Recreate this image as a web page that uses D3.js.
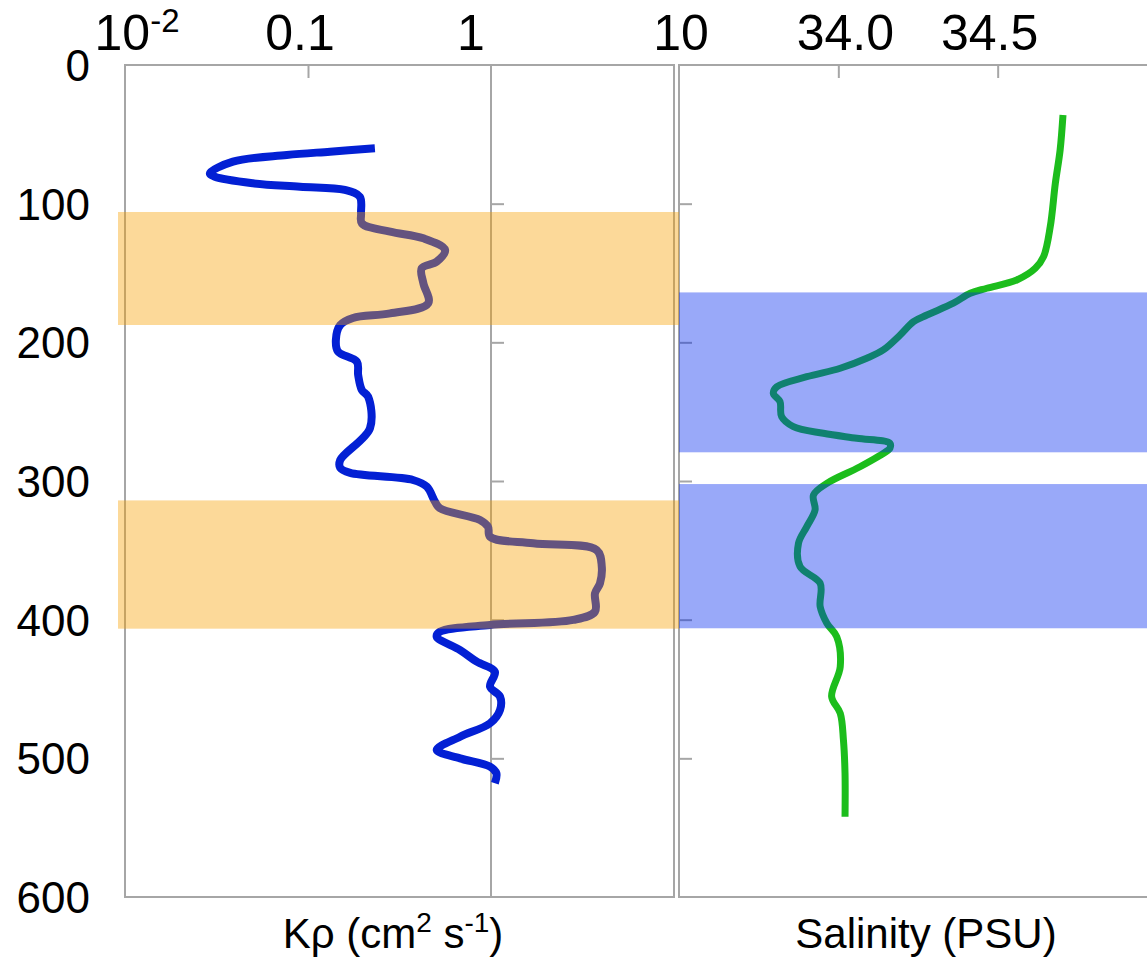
<!DOCTYPE html>
<html><head><meta charset="utf-8">
<script src="https://cdn.jsdelivr.net/npm/d3@7"></script>
<style>html,body{margin:0;padding:0;background:#fff;overflow:hidden;} svg{display:block;font-family:"Liberation Sans",Arial,sans-serif;}</style>
</head><body><svg id="c" width="1147" height="959"></svg>
<script>
// ---------------- data ----------------
const depthTicks = [0, 100, 200, 300, 400, 500, 600];
const depthTickLabels = ["0", "100", "200", "300", "400", "500", "600"];
const kTicks = [0.01, 0.1, 1, 10];
const kTickLabels = ["10", "0.1", "1", "10"];   // first label gets superscript "-2"
const salTicks = [34.0, 34.5];
const salTickLabels = ["34.0", "34.5"];

// K-rho profile (depth m, cm2 s-1)
const kDepth = [60.1, 62.5, 64.9, 69.7, 78.1, 80.6, 85.3, 87.8, 90.1, 95.0, 106.9, 114.2, 120.2, 125.0, 133.4, 141.8, 146.6, 157.4, 171.8, 179.1, 182.4, 187.5, 198.3, 206.7, 214.0, 223.6, 234.4, 239.2, 262.0, 284.9, 290.6, 294.2, 299.3, 304.1, 314.9, 319.7, 328.1, 333.0, 340.2, 344.9, 349.8, 361.8, 373.8, 381.0, 394.2, 400.2, 403.8, 408.7, 412.3, 421.9, 430.3, 437.5, 448.3, 455.5, 465.1, 474.7, 484.4, 494.0, 500.0, 506.0, 510.8, 518.0];
const kValue = [0.232, 0.132, 0.0766, 0.0389, 0.0291, 0.031, 0.050, 0.0904, 0.159, 0.192, 0.195, 0.197, 0.281, 0.427, 0.561, 0.505, 0.418, 0.427, 0.454, 0.281, 0.176, 0.150, 0.142, 0.146, 0.185, 0.188, 0.197, 0.213, 0.218, 0.150, 0.150, 0.170, 0.375, 0.446, 0.494, 0.526, 0.871, 0.963, 0.988, 1.70, 3.78, 4.03, 3.94, 3.70, 3.70, 2.81, 0.988, 0.526, 0.505, 0.678, 0.836, 1.05, 0.988, 1.12, 1.12, 0.988, 0.678, 0.505, 0.678, 0.988, 1.07, 1.05];

// Salinity profile (depth m, PSU)
const salDepth = [36.1, 61.3, 85.3, 116.6, 138.2, 146.6, 155.0, 161.0, 164.6, 171.8, 180.3, 185.1, 194.7, 205.5, 211.5, 218.7, 224.8, 232.0, 236.8, 242.8, 253.6, 260.8, 265.6, 269.2, 272.8, 276.4, 277.6, 289.7, 301.7, 310.1, 320.9, 332.9, 344.9, 361.8, 373.8, 390.6, 402.6, 412.3, 433.9, 455.5, 467.5, 486.8, 510.8, 542.1];
const salValue = [34.705, 34.696, 34.681, 34.665, 34.644, 34.618, 34.560, 34.466, 34.414, 34.361, 34.278, 34.236, 34.194, 34.141, 34.089, 34.006, 33.901, 33.807, 33.796, 33.817, 33.822, 33.859, 33.953, 34.058, 34.162, 34.162, 34.157, 34.068, 33.964, 33.922, 33.927, 33.901, 33.875, 33.880, 33.943, 33.943, 33.964, 33.995, 34.006, 33.979, 34.006, 34.016, 34.021, 34.021];

// highlighted depth layers
const orangeBandTop = [106, 314];
const orangeBandBottom = [187.5, 406.5];
const blueBandTop = [164, 302.2];
const blueBandBottom = [279.3, 406.2];

// ---------------- drawing ----------------
const svg = d3.select("#c");
const axisColor = "#a6a6a6";

const y = d3.scaleLinear().domain([0, 600]).range([65, 897]);
const xk = d3.scaleLog().domain([0.01, 10]).range([125, 674]);
const xs = d3.scaleLinear().domain([33.5, 35.0]).range([679, 1157]);

svg.append("rect").attr("width", 1147).attr("height", 959).attr("fill", "#fff");

// left frame
svg.append("rect")
  .attr("x", xk(0.01)).attr("y", y(0))
  .attr("width", xk(10) - xk(0.01)).attr("height", y(600) - y(0))
  .attr("fill", "none").attr("stroke", axisColor).attr("stroke-width", 2);
// vertical axis at 1
svg.append("line").attr("x1", xk(1)).attr("x2", xk(1)).attr("y1", y(0)).attr("y2", y(600))
  .attr("stroke", axisColor).attr("stroke-width", 2);
// right frame (open on the right)
svg.append("path")
  .attr("d", `M1147,${y(0)} H${xs(33.5)} V${y(600)} H1147`)
  .attr("fill", "none").attr("stroke", axisColor).attr("stroke-width", 2);

// depth ticks (no labels) inside both panels
const tickDepths = depthTicks.filter(d => d > 0 && d < 600);
const gTickL = svg.append("g").attr("transform", `translate(${xk(1)},0)`)
  .call(d3.axisRight(y).tickValues(tickDepths).tickSize(13).tickFormat(""));
const gTickR = svg.append("g").attr("transform", `translate(${xs(33.5)},0)`)
  .call(d3.axisRight(y).tickValues(tickDepths).tickSize(13).tickFormat(""));
[gTickL, gTickR].forEach(g => {
  g.select(".domain").remove();
  g.selectAll("line").attr("stroke", axisColor).attr("stroke-width", 2);
});

// top ticks
const gTopK = svg.append("g").attr("transform", `translate(0,${y(0)})`)
  .call(d3.axisBottom(xk).tickValues([0.1]).tickSize(13).tickFormat(""));
const gTopS = svg.append("g").attr("transform", `translate(0,${y(0)})`)
  .call(d3.axisBottom(xs).tickValues(salTicks).tickSize(13).tickFormat(""));
[gTopK, gTopS].forEach(g => {
  g.select(".domain").remove();
  g.selectAll("line").attr("stroke", axisColor).attr("stroke-width", 2);
});

// profiles
const kData = kDepth.map((d, i) => ({ d, v: kValue[i] }));
const sData = salDepth.map((d, i) => ({ d, v: salValue[i] }));
svg.append("path").datum(kData)
  .attr("d", d3.line().curve(d3.curveCatmullRom.alpha(0.5)).x(p => xk(p.v)).y(p => y(p.d)))
  .attr("fill", "none").attr("stroke", "#0320d4").attr("stroke-width", 8)
  .attr("stroke-linejoin", "round").attr("stroke-linecap", "butt");
svg.append("path").datum(sData)
  .attr("d", d3.line().curve(d3.curveCatmullRom.alpha(0.5)).x(p => xs(p.v)).y(p => y(p.d)))
  .attr("fill", "none").attr("stroke", "#1cbd1c").attr("stroke-width", 7)
  .attr("stroke-linejoin", "round").attr("stroke-linecap", "butt");

// translucent bands on top
svg.selectAll("rect.ob").data(orangeBandTop).join("rect").attr("class", "ob")
  .attr("x", 118).attr("width", xs(33.5) - 118)
  .attr("y", (d, i) => y(d)).attr("height", (d, i) => y(orangeBandBottom[i]) - y(d))
  .attr("fill", "rgb(247,160,0)").attr("fill-opacity", 0.4);
svg.selectAll("rect.bb").data(blueBandTop).join("rect").attr("class", "bb")
  .attr("x", xs(33.5)).attr("width", 1147 - xs(33.5))
  .attr("y", (d, i) => y(d)).attr("height", (d, i) => y(blueBandBottom[i]) - y(d))
  .attr("fill", "rgb(0,40,240)").attr("fill-opacity", 0.4);

// depth labels
svg.append("g").selectAll("text").data(depthTicks).join("text")
  .attr("x", 90).attr("y", d => y(d)).attr("dy", "0.36em")
  .attr("text-anchor", "end").attr("font-size", 44).attr("fill", "#000")
  .text((d, i) => depthTickLabels[i]);

// top Kρ labels
const kNudge = [12, -8, -20, 7];
const kl = svg.append("g").selectAll("text").data(kTicks).join("text")
  .attr("x", (d, i) => xk(d) + kNudge[i]).attr("y", 50)
  .attr("text-anchor", "middle").attr("font-size", 50).attr("fill", "#000");
kl.each(function (d, i) {
  const t = d3.select(this);
  t.append("tspan").text(kTickLabels[i]);
  if (i === 0) t.append("tspan").attr("font-size", 33).attr("dy", -18).text("-2");
});

// top salinity labels
const sNudge = [7, -8];
svg.append("g").selectAll("text").data(salTicks).join("text")
  .attr("x", (d, i) => xs(d) + sNudge[i]).attr("y", 50)
  .attr("text-anchor", "middle").attr("font-size", 50).attr("fill", "#000")
  .text((d, i) => salTickLabels[i]);

// axis titles
const kt = svg.append("text").attr("x", 393).attr("y", 948)
  .attr("text-anchor", "middle").attr("font-size", 42).attr("fill", "#000");
kt.append("tspan").text("Kρ (cm");
kt.append("tspan").attr("font-size", 28).attr("dy", -16).text("2");
kt.append("tspan").attr("dy", 16).text(" s");
kt.append("tspan").attr("font-size", 28).attr("dy", -16).text("-1");
kt.append("tspan").attr("dy", 16).text(")");

svg.append("text").attr("x", 926).attr("y", 948)
  .attr("text-anchor", "middle").attr("font-size", 42).attr("fill", "#000")
  .text("Salinity (PSU)");
</script></body></html>
